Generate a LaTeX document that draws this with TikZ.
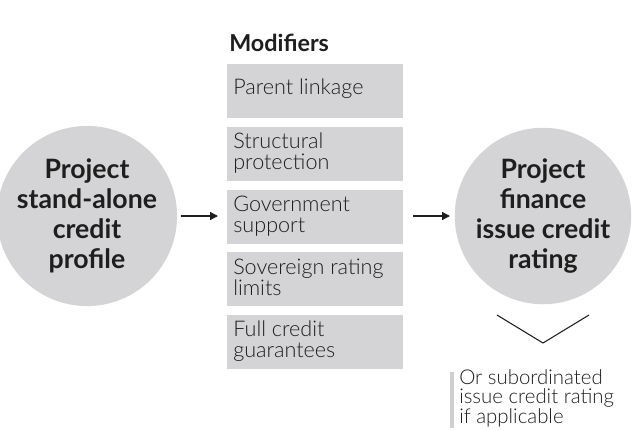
\documentclass[tikz,border=0pt]{standalone}
\usepackage{fontspec}
\setmainfont{Lato}[UprightFont=* Light, BoldFont=* Bold]
\usetikzlibrary{arrows.meta}
\definecolor{fillgray}{HTML}{D4D4D6}
\definecolor{bargray}{HTML}{CFCFCF}
\definecolor{ink}{HTML}{1E1E1E}
\begin{document}
\begin{tikzpicture}[x=0.75pt,y=-0.75pt,
  bigcirc/.style={circle,fill=fillgray,minimum size=126pt,inner sep=0pt,text=ink,
    align=center,font=\fontsize{20}{22.5}\selectfont\bfseries},
  modbox/.style={fill=fillgray,minimum width=132pt,minimum height=40pt,inner sep=0pt,
    anchor=north west,text=ink},
  modtext/.style={anchor=north west,align=left,text=ink,inner sep=0pt,
    font=\fontsize{16.2}{15.5}\selectfont},
  flowarrow/.style={-{Triangle[length=6pt,width=6pt]},line width=0.9pt,ink},
  ]
\useasboundingbox (0,0) rectangle (637,430);
\node[bigcirc] (src) at (87,216) {Project\\stand-alone\\credit\\profile};
\node[bigcirc] (dst) at (543,216) {Project\\finance\\issue credit\\rating};
\node[anchor=base west,inner sep=0pt,text=ink,font=\fontsize{17.5}{18}\selectfont\bfseries] (title) at (229,51) {Modifiers};
\node[modbox] (b1) at (227,64) {};
\node[modbox] (b2) at (227,127) {};
\node[modbox] (b3) at (227,190) {};
\node[modbox] (b4) at (227,252) {};
\node[modbox] (b5) at (227,315) {};
\node[modtext] (t1) at (233,79) {Parent linkage};
\node[modtext] (t2) at (233,133) {Structural\\protection};
\node[modtext] (t3) at (233,196) {Government\\support};
\node[modtext] (t4) at (233,259) {Sovereign rating\\limits};
\node[modtext] (t5) at (233,321) {Full credit\\guarantees};
\coordinate (a1s) at (181,216);
\coordinate (a1e) at (218,216);
\coordinate (a2s) at (413,216);
\coordinate (a2e) at (450,216);
\draw[flowarrow] (a1s) -- (a1e);
\draw[flowarrow] (a2s) -- (a2e);
\coordinate (c1) at (497,315);
\coordinate (c2) at (543,343);
\coordinate (c3) at (589,315);
\draw[ink,line width=0.8pt] (c1) -- (c2) -- (c3);
\coordinate (barTop) at (452,372);
\coordinate (barBot) at (452,428);
\draw[bargray,line width=3pt] (barTop) -- (barBot);
\node[modtext,font=\fontsize{15.3}{14.6}\selectfont] (note) at (459,369) {Or subordinated\\issue credit rating\\if applicable};
\end{tikzpicture}
\end{document}
